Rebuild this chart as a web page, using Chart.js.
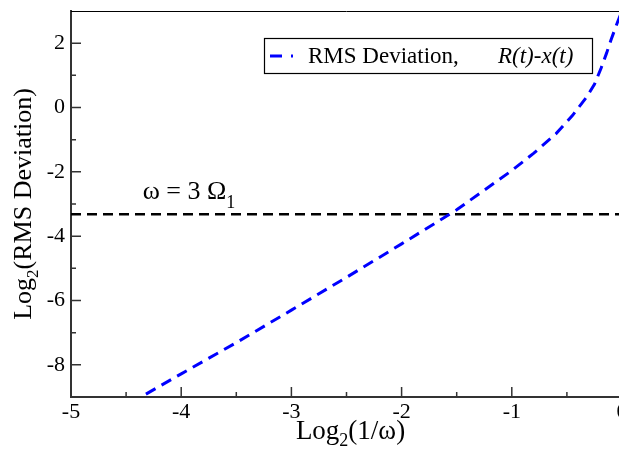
<!DOCTYPE html>
<html>
<head>
<meta charset="utf-8">
<script src="https://cdn.jsdelivr.net/npm/chart.js@4"></script>
<style>
  html, body { margin: 0; padding: 0; background: #fff; overflow: hidden; }
  #chart { display: block; }
</style>
</head>
<body>
<canvas id="chart" width="625" height="450"></canvas>
<script>
// curve
const logInvOmega = [-4.32, -4.0, -3.5, -3.0, -2.5, -2.0, -1.5, -1.0, -0.8, -0.6, -0.45, -0.32, -0.25, -0.19, -0.14, -0.1, -0.04, 0];
const rmsDeviation = [-8.91, -8.28, -7.31, -6.30, -5.28, -4.24, -3.18, -1.96, -1.42, -0.82, -0.25, 0.33, 0.72, 1.22, 1.69, 2.1, 2.66, 3.0];

// omega = 3 Omega_1 reference line
const thresholdX = [-5, 0];
const thresholdY = [-3.32, -3.32];

const xTicks = [-5, -4, -3, -2, -1, 0];
const xMinor = [-4.5, -3.5, -2.5, -1.5, -0.5];
const yTicks = [-8, -6, -4, -2, 0, 2];
const yMinor = [-7, -5, -3, -1, 1];

const serif = "'Liberation Serif', 'Times New Roman', serif";

// draw a row of text pieces (for subscripts / italics)
function drawRuns(ctx, runs, x, y, align) {
  let total = 0;
  runs.forEach(r => { ctx.font = r.font; total += ctx.measureText(r.text).width; });
  let cx = align === "center" ? x - total / 2 : x;
  runs.forEach(r => {
    ctx.font = r.font;
    ctx.fillText(r.text, cx, y + (r.dy || 0));
    cx += ctx.measureText(r.text).width;
  });
}

const decorations = {
  id: "decorations",
  afterDraw(chart) {
    const { ctx, chartArea: a, scales: { x, y } } = chart;
    ctx.save();

    // top / right frame
    ctx.strokeStyle = "#000";
    ctx.lineWidth = 1;
    ctx.beginPath();
    ctx.moveTo(a.left, a.top + 0.5);
    ctx.lineTo(a.right, a.top + 0.5);
    ctx.moveTo(a.right - 0.5, a.top);
    ctx.lineTo(a.right - 0.5, a.bottom);
    ctx.stroke();

    // inward ticks
    ctx.strokeStyle = "#333";
    ctx.lineWidth = 1.5;
    ctx.beginPath();
    xTicks.forEach(v => { const p = x.getPixelForValue(v); ctx.moveTo(p, a.bottom); ctx.lineTo(p, a.bottom - 10); });
    xMinor.forEach(v => { const p = x.getPixelForValue(v); ctx.moveTo(p, a.bottom); ctx.lineTo(p, a.bottom - 5); });
    yTicks.forEach(v => { const p = y.getPixelForValue(v); ctx.moveTo(a.left, p); ctx.lineTo(a.left + 10, p); });
    yMinor.forEach(v => { const p = y.getPixelForValue(v); ctx.moveTo(a.left, p); ctx.lineTo(a.left + 5, p); });
    ctx.stroke();

    ctx.fillStyle = "#000";
    ctx.textBaseline = "alphabetic";
    ctx.textAlign = "left";

    // axis titles
    drawRuns(ctx, [
      { text: "Log", font: "27px " + serif },
      { text: "2", font: "18px " + serif, dy: 7 },
      { text: "(1/ω)", font: "27px " + serif }
    ], (a.left + a.right) / 2 + 4, 439, "center");

    ctx.save();
    ctx.translate(31, (a.top + a.bottom) / 2);
    ctx.rotate(-Math.PI / 2);
    drawRuns(ctx, [
      { text: "Log", font: "26px " + serif },
      { text: "2", font: "17px " + serif, dy: 7 },
      { text: "(RMS Deviation)", font: "26px " + serif }
    ], 0, 0, "center");
    ctx.restore();

    // annotation over the dashed line
    const ly = y.getPixelForValue(thresholdY[0]);
    drawRuns(ctx, [
      { text: "ω = 3 Ω", font: "26px " + serif },
      { text: "1", font: "18px " + serif, dy: 9 }
    ], x.getPixelForValue(-4.35), ly - 15, "left");

    // legend box
    const bx = a.right - 358, by = a.top + 27, bw = 328, bh = 35;
    ctx.fillStyle = "#fff";
    ctx.fillRect(bx, by, bw, bh);
    ctx.strokeStyle = "#000";
    ctx.lineWidth = 1.2;
    ctx.strokeRect(bx + 0.5, by + 0.5, bw, bh);
    ctx.strokeStyle = "#0000ff";
    ctx.lineWidth = 3;
    ctx.setLineDash([12, 9]);
    ctx.beginPath();
    ctx.moveTo(bx + 6, by + 18);
    ctx.lineTo(bx + 29, by + 18);
    ctx.stroke();
    ctx.setLineDash([]);
    ctx.fillStyle = "#000";
    ctx.font = "23px " + serif;
    ctx.fillText("RMS Deviation,", bx + 44, by + 25);
    ctx.font = "italic 23px " + serif;
    ctx.fillText("R(t)-x(t)", bx + 234, by + 25);

    ctx.restore();
  }
};

new Chart(document.getElementById("chart"), {
  type: "line",
  data: {
    datasets: [
      {
        label: "RMS Deviation, R(t)-x(t)",
        data: logInvOmega.map((v, i) => ({ x: v, y: rmsDeviation[i] })),
        borderColor: "#0000ff",
        borderWidth: 3,
        borderDash: [11, 7],
        pointRadius: 0,
        fill: false
      },
      {
        label: "threshold",
        data: thresholdX.map((v, i) => ({ x: v, y: thresholdY[i] })),
        borderColor: "#000",
        borderWidth: 2.5,
        borderDash: [10, 6],
        pointRadius: 0,
        fill: false
      }
    ]
  },
  options: {
    responsive: false,
    animation: false,
    devicePixelRatio: 1,
    layout: { padding: { top: 11, right: 3, left: 0, bottom: 0 } },
    plugins: {
      legend: { display: false },
      tooltip: { enabled: false }
    },
    scales: {
      x: {
        type: "linear",
        min: -5,
        max: 0,
        afterBuildTicks: s => { s.ticks = xTicks.map(v => ({ value: v })); },
        afterFit: s => { s.height = 53; s.paddingLeft = 0; s.paddingRight = 0; },
        grid: { display: false, drawTicks: false },
        border: { display: true, color: "#333", width: 2 },
        ticks: {
          color: "#000",
          font: { family: serif, size: 22 },
          padding: 2,
          maxRotation: 0,
          autoSkip: false,
          callback: v => String(v)
        }
      },
      y: {
        type: "linear",
        min: -9,
        max: 3,
        afterBuildTicks: s => { s.ticks = yTicks.map(v => ({ value: v })); },
        afterFit: s => { s.width = 71; s.paddingTop = 0; s.paddingBottom = 0; },
        grid: { display: false, drawTicks: false },
        border: { display: true, color: "#333", width: 2 },
        ticks: {
          color: "#000",
          font: { family: serif, size: 22 },
          padding: 6,
          autoSkip: false,
          callback: v => String(v)
        }
      }
    }
  },
  plugins: [decorations]
});
</script>
</body>
</html>
